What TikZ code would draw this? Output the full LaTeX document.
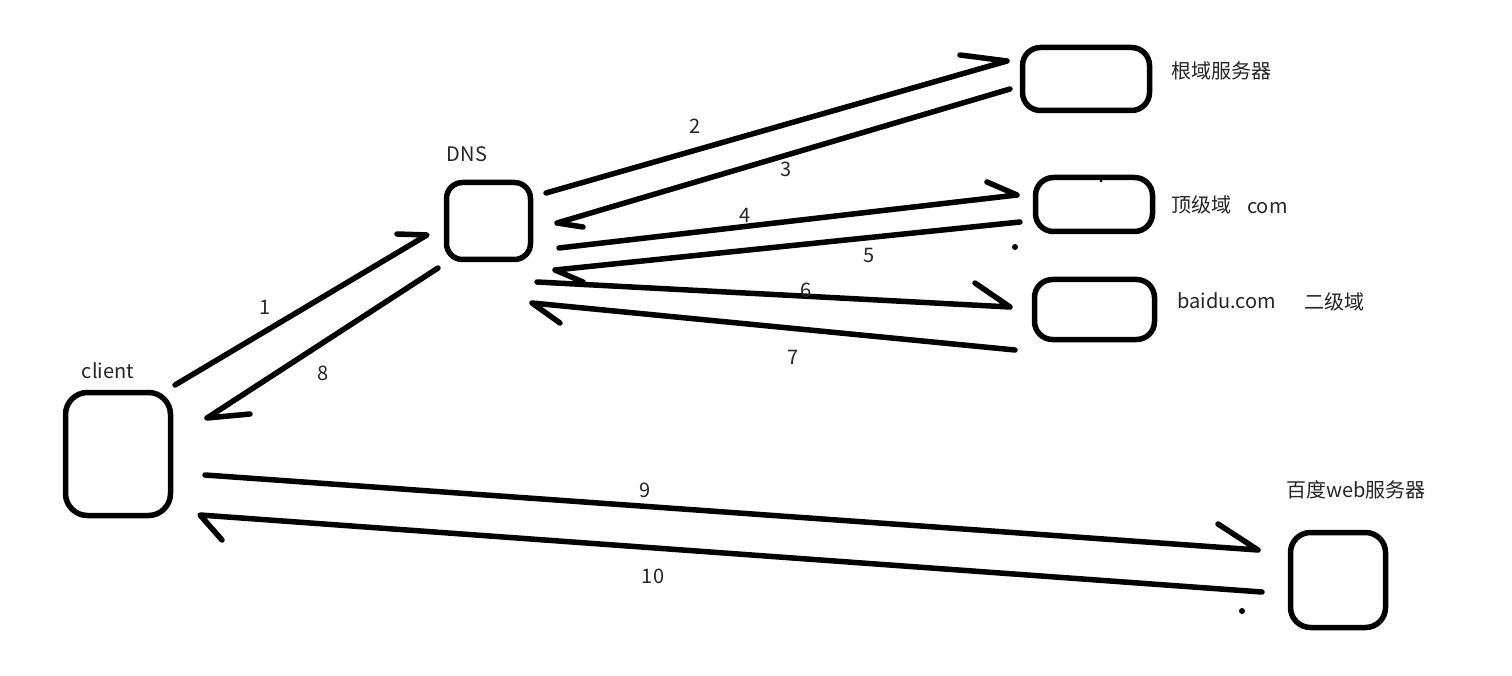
\documentclass[tikz,border=0pt]{standalone}
\usepackage{fontspec}
\setmainfont{Noto Sans CJK SC}
\begin{document}
\begin{tikzpicture}[x=1pt,y=-1pt,
  srv/.style={draw=black,line width=5.5pt,rounded corners=18pt,fill=none,inner sep=0pt},
  lbl/.style={text=black!85,font=\fontsize{20}{23}\selectfont,inner sep=0pt},
  conn/.style={draw=black,line width=5.5pt,line cap=round,line join=round},
  spot/.style={fill=black,circle,inner sep=0pt,minimum size=6pt}]
\useasboundingbox[fill=white] (0,0) rectangle (1512,676);
% servers
\node[srv,minimum width=105pt,minimum height=123pt,rounded corners=22pt] (client) at (118,454) {};
\node[srv,minimum width=84pt,minimum height=77pt,rounded corners=16pt] (dns) at (488.5,221) {};
\node[srv,minimum width=127pt,minimum height=63pt] (root) at (1086,79) {};
\node[srv,minimum width=117pt,minimum height=54pt] (tld) at (1094,204.5) {};
\node[srv,minimum width=120pt,minimum height=60pt] (sld) at (1094.5,309.5) {};
\node[srv,minimum width=95pt,minimum height=95pt,rounded corners=20pt] (web) at (1338,580) {};
% labels
\node[lbl] (lclient) at (108,371) {client};
\node[lbl] (ldns) at (467,154) {DNS};
\node[lbl,anchor=west] (lroot) at (1171,71) {根域服务器};
\node[lbl,anchor=west] (ltld) at (1171,205) {顶级域};
\node[lbl,anchor=west] (lcom) at (1247,208) {com};
\node[lbl,anchor=west] (lsld) at (1177,301) {baidu.com};
\node[lbl,anchor=west] (lsld2) at (1304,302) {二级域};
\node[lbl,anchor=west] (lweb) at (1286,490) {百度web服务器};
% dots
\node[spot,minimum size=3pt] (d1) at (1101,181) {};
\node[spot] (d2) at (1015,247) {};
\node[spot] (d3) at (1242,611) {};
% connector end points
\coordinate (a1s) at (175,385); \coordinate (a1t) at (427,235); \coordinate (a1b) at (397,234);
\coordinate (a8s) at (438,268); \coordinate (a8t) at (207,418); \coordinate (a8b) at (250,414);
\coordinate (a2s) at (546,193); \coordinate (a2t) at (1007,61); \coordinate (a2b) at (960,55);
\coordinate (a3s) at (1010,89); \coordinate (a3t) at (557,223); \coordinate (a3b) at (583,227);
\coordinate (a4s) at (559,248); \coordinate (a4t) at (1017,195); \coordinate (a4b) at (987,182);
\coordinate (a5s) at (1020,222); \coordinate (a5t) at (555,270); \coordinate (a5b) at (583,282);
\coordinate (a6s) at (537,282); \coordinate (a6t) at (1010,307); \coordinate (a6b) at (975,283);
\coordinate (a7s) at (1015,350); \coordinate (a7t) at (532,303); \coordinate (a7b) at (560,323);
\coordinate (a9s) at (205,475); \coordinate (a9t) at (1258,550); \coordinate (a9b) at (1218,524);
\coordinate (a10s) at (1262,592); \coordinate (a10t) at (200,515); \coordinate (a10b) at (222,540);
% connectors
\draw[conn] (a1s) -- (a1t) -- (a1b);
\draw[conn] (a8s) -- (a8t) -- (a8b);
\draw[conn] (a2s) -- (a2t) -- (a2b);
\draw[conn] (a3s) -- (a3t) -- (a3b);
\draw[conn] (a4s) -- (a4t) -- (a4b);
\draw[conn] (a5s) -- (a5t) -- (a5b);
\draw[conn] (a6s) -- (a6t) -- (a6b);
\draw[conn] (a7s) -- (a7t) -- (a7b);
\draw[conn] (a9s) -- (a9t) -- (a9b);
\draw[conn] (a10s) -- (a10t) -- (a10b);
% numbers
\node[lbl] (n1) at (265,307) {1};
\node[lbl] (n8) at (323,373) {8};
\node[lbl] (n2) at (695,126) {2};
\node[lbl] (n3) at (786,169) {3};
\node[lbl] (n4) at (745,215) {4};
\node[lbl] (n5) at (869,256) {5};
\node[lbl] (n6) at (806,290) {6};
\node[lbl] (n7) at (793,357) {7};
\node[lbl] (n9) at (645,490) {9};
\node[lbl] (n10) at (653,576) {10};
\end{tikzpicture}
\end{document}
